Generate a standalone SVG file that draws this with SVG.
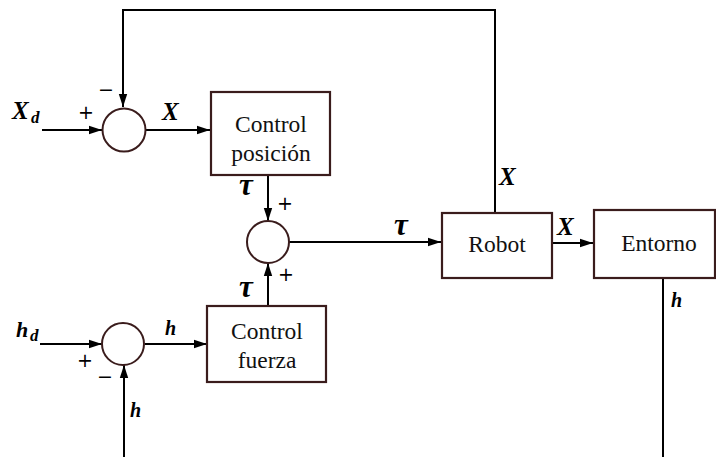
<svg xmlns="http://www.w3.org/2000/svg" width="716" height="457" viewBox="0 0 716 457">
<defs>
<marker id="ah" markerUnits="userSpaceOnUse" markerWidth="14" markerHeight="10" refX="13" refY="5" orient="auto">
<path d="M0,0.8 L13,5 L0,9.2 Z" fill="#000"/>
</marker>
<style>
.box{fill:#fff;stroke:#3a1c1c;stroke-width:2.2}
.sum{fill:#fff;stroke:#3a1c1c;stroke-width:2}
.ln{fill:none;stroke:#000;stroke-width:2}
.arr{fill:none;stroke:#000;stroke-width:2;marker-end:url(#ah)}
.t{font-size:23.5px;fill:#111;text-anchor:middle}
.m{font-style:italic;font-weight:bold;fill:#000}
.s{font-size:19px;fill:#000;text-anchor:middle}
</style>
</defs>
<g id="connectors">
<polyline class="arr" points="495,213 495,10 123,10 123,107"/>
<line class="arr" x1="42" y1="130" x2="102" y2="130"/>
<line class="arr" x1="146" y1="130" x2="210" y2="130"/>
<line class="arr" x1="268" y1="175" x2="268" y2="221"/>
<line class="arr" x1="268" y1="306" x2="268" y2="263"/>
<line class="arr" x1="289" y1="242" x2="441" y2="242"/>
<line class="arr" x1="552" y1="243" x2="593" y2="243"/>
<line class="ln" x1="663" y1="278" x2="663" y2="457"/>
<line class="arr" x1="40" y1="344" x2="102" y2="344"/>
<line class="arr" x1="145" y1="344" x2="207" y2="344"/>
<line class="arr" x1="124" y1="457" x2="124" y2="365"/>
</g>
<g id="sum1"><circle class="sum" cx="124" cy="130" r="21.5"/></g>
<g id="sum2"><circle class="sum" cx="268" cy="242" r="21"/></g>
<g id="sum3"><circle class="sum" cx="123" cy="344" r="21"/></g>
<g id="control-posicion" font-family="Liberation Serif, serif">
<rect class="box" x="211" y="92" width="119" height="83"/>
<text class="t" x="271" y="132">Control</text>
<text class="t" x="271" y="161">posición</text>
</g>
<g id="control-fuerza" font-family="Liberation Serif, serif">
<rect class="box" x="207" y="306" width="119" height="76"/>
<text class="t" x="267" y="339">Control</text>
<text class="t" x="267" y="368">fuerza</text>
</g>
<g id="robot" font-family="Liberation Serif, serif">
<rect class="box" x="442" y="213" width="110" height="65"/>
<text class="t" x="497" y="252">Robot</text>
</g>
<g id="entorno" font-family="Liberation Serif, serif">
<rect class="box" x="594" y="210" width="121" height="68"/>
<text class="t" x="659" y="251">Entorno</text>
</g>
<g id="labels" font-family="Liberation Serif, serif">
<text class="m" x="12" y="119" font-size="25">X</text>
<text class="m" x="31" y="123" font-size="17">d</text>
<text class="s" x="86" y="119" font-family="DejaVu Sans, sans-serif">+</text>
<text class="s" x="106" y="96" font-family="DejaVu Sans, sans-serif">−</text>
<text class="m" x="162" y="120" font-size="25">X</text>
<text class="m" x="239" y="195" font-size="31">τ</text>
<text class="s" x="285" y="210" font-family="DejaVu Sans, sans-serif">+</text>
<text class="m" x="394" y="235" font-size="31">τ</text>
<text class="s" x="286" y="281" font-family="DejaVu Sans, sans-serif">+</text>
<text class="m" x="239" y="297" font-size="31">τ</text>
<text class="m" x="499" y="185" font-size="25">X</text>
<text class="m" x="557" y="235" font-size="25">X</text>
<text class="m" x="671" y="307" font-size="20">h</text>
<text class="m" x="16" y="337" font-size="22">h</text>
<text class="m" x="30" y="341" font-size="17">d</text>
<text class="s" x="85" y="367" font-family="DejaVu Sans, sans-serif">+</text>
<text class="s" x="105" y="383" font-family="DejaVu Sans, sans-serif">−</text>
<text class="m" x="165" y="335" font-size="20">h</text>
<text class="m" x="130" y="417" font-size="20">h</text>
</g>
</svg>
